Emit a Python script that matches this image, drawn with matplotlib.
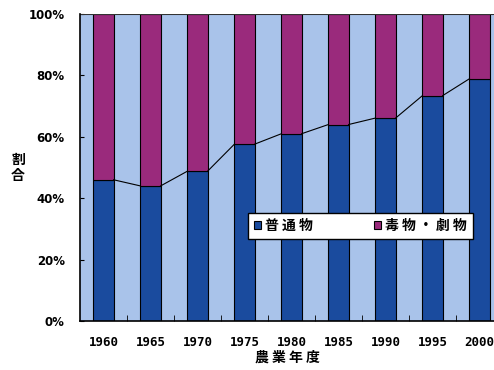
import numpy as np
import matplotlib.pyplot as plt

plt.rcParams['font.family'] = ['Noto Sans CJK JP', 'DejaVu Sans']

years = ['1960', '1965', '1970', '1975', '1980', '1985', '1990', '1995', '2000']
futsu = [46.0, 44.0, 48.8, 57.6, 61.0, 64.0, 66.1, 73.4, 78.9]   # 普通物
dokugeki = [100 - v for v in futsu]                                # 毒物・劇物
y_ticks = [0, 20, 40, 60, 80, 100]

blue = '#1a4b9e'
magenta = '#9a2a7c'
bg = '#a9c3ea'

fig = plt.figure(figsize=(4.94, 3.70), dpi=100)
ax = fig.add_axes([80 / 494, 49 / 370, 423 / 494, 307 / 370])
ax.set_facecolor(bg)

x = np.arange(len(years))
w = 0.43
ax.bar(x, futsu, width=w, color=blue, edgecolor='black', linewidth=0.8, label='普 通 物')
ax.bar(x, dokugeki, width=w, bottom=futsu, color=magenta, edgecolor='black',
       linewidth=0.8, label='毒 物 ・ 劇 物')

# connector lines between the tops of the blue segments
for i in range(len(years) - 1):
    ax.plot([x[i] + w / 2, x[i + 1] - w / 2], [futsu[i], futsu[i + 1]],
            color='black', linewidth=0.8)

ax.set_xlim(-0.5, len(years) - 0.5)
ax.set_ylim(0, 100)

ax.set_yticks(y_ticks)
ax.set_yticklabels([f'{v}%' for v in y_ticks], fontsize=8.5, fontweight='bold',
                   family='DejaVu Sans')
ax.set_xticks(x)
ax.set_xticklabels(years, fontsize=9, fontweight='bold', family='DejaVu Sans Mono')
ax.tick_params(axis='x', length=0, pad=11)
ax.set_xticks(x[:-1] + 0.5, minor=True)
ax.tick_params(axis='x', which='minor', direction='in', length=4)
ax.tick_params(axis='y', direction='in', length=3, pad=11)

for s in ['top', 'right']:
    ax.spines[s].set_visible(False)
ax.spines['left'].set_linewidth(1.2)
ax.spines['bottom'].set_linewidth(1.2)
ax.axhline(100, color='#333333', linewidth=1.5)

ax.set_xlabel('農 業 年 度', fontsize=10, fontweight='bold')
ax.xaxis.set_label_coords(0.49, -0.095)
fig.text(18 / 494, 1 - 168 / 370, '割\n合', fontsize=10, fontweight='bold',
         ha='center', va='center', linespacing=1.2)

leg = ax.legend(loc='upper left', bbox_to_anchor=(0.397, 0.258, 0.532, 0.094),
                mode='expand', borderaxespad=0, ncol=2, frameon=True,
                fancybox=False, edgecolor='black', framealpha=1,
                fontsize=10, handlelength=0.5, handleheight=0.5,
                handletextpad=0.3, borderpad=0.45)
leg.get_frame().set_linewidth(1.0)
for t in leg.get_texts():
    t.set_fontweight('bold')

fig.savefig('out.png', dpi=100)
